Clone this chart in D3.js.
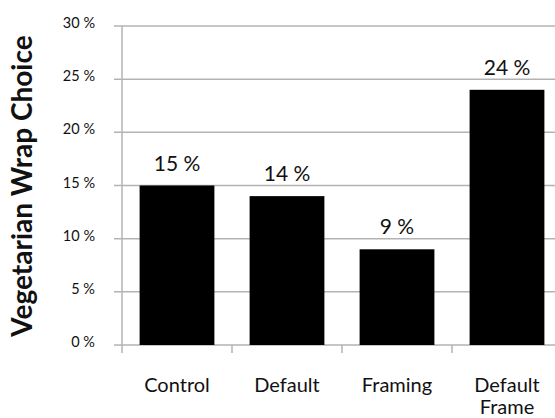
<!DOCTYPE html>
<html>
<head>
<meta charset="utf-8">
<script src="https://cdn.jsdelivr.net/npm/d3@7"></script>
<style>
  html, body { margin: 0; padding: 0; background: #fff; }
  svg { display: block; }
  text { font-family: "Lato", "DejaVu Sans", sans-serif; fill: #111; }
</style>
</head>
<body>
<svg id="chart" width="555" height="418"></svg>
<script>
// Share of diners choosing the vegetarian wrap, per condition
const categories = ["Control", "Default", "Framing", "Default\nFrame"];
const values = [15, 14, 9, 24];
const yTicks = [0, 5, 10, 15, 20, 25, 30];

const svg = d3.select("#chart");
const margin = { left: 122, top: 26, bottom: 73 };
const H = 418;

const x = d3.scaleBand()
  .domain(categories)
  .range([margin.left, margin.left + 440])
  .paddingInner(0.32)
  .paddingOuter(0.16);

const y = d3.scaleLinear()
  .domain([0, 30])
  .range([H - margin.bottom, margin.top]);

const grey = "#b3b3b3";

// horizontal gridlines with short ticks left of the axis
svg.append("g").selectAll("line")
  .data(yTicks)
  .join("line")
  .attr("x1", margin.left - 8)
  .attr("x2", 555)
  .attr("y1", d => y(d))
  .attr("y2", d => y(d))
  .attr("stroke", grey)
  .attr("stroke-width", 1.5);

// vertical axis line
svg.append("line")
  .attr("x1", margin.left).attr("x2", margin.left)
  .attr("y1", y(30)).attr("y2", y(0) + 8)
  .attr("stroke", grey).attr("stroke-width", 1.5);

// category separator ticks below the baseline
const bounds = categories.map((c, i) => margin.left + i * x.step());
svg.append("g").selectAll("line")
  .data(bounds.slice(1))
  .join("line")
  .attr("x1", d => d).attr("x2", d => d)
  .attr("y1", y(0)).attr("y2", y(0) + 8)
  .attr("stroke", grey).attr("stroke-width", 1.5);

// y tick labels
svg.append("g").selectAll("text")
  .data(yTicks)
  .join("text")
  .attr("x", 95)
  .attr("y", d => y(d) + 2)
  .attr("text-anchor", "end")
  .attr("font-size", 14.5)
  .text(d => d + " %");

// bars
svg.append("g").selectAll("rect")
  .data(values)
  .join("rect")
  .attr("x", (d, i) => x(categories[i]))
  .attr("width", x.bandwidth())
  .attr("y", d => y(d))
  .attr("height", d => y(0) - y(d))
  .attr("fill", "#000");

// value labels
svg.append("g").selectAll("text")
  .data(values)
  .join("text")
  .attr("x", (d, i) => x(categories[i]) + x.bandwidth() / 2)
  .attr("y", d => y(d) - 15)
  .attr("text-anchor", "middle")
  .attr("font-size", 21)
  .text(d => d + " %");

// category labels (may wrap to two lines)
const cat = svg.append("g").selectAll("text")
  .data(categories)
  .join("text")
  .attr("x", d => x(d) + x.bandwidth() / 2)
  .attr("y", 392)
  .attr("text-anchor", "middle")
  .attr("font-size", 20);
cat.each(function(d) {
  const t = d3.select(this);
  const cx = +t.attr("x");
  d.split("\n").forEach((line, i) => {
    t.append("tspan").attr("x", cx).attr("dy", i === 0 ? 0 : 22).text(line);
  });
});

// y axis title
svg.append("text")
  .attr("transform", `translate(32, 186) rotate(-90)`)
  .attr("text-anchor", "middle")
  .attr("font-size", 28)
  .attr("font-weight", "bold")
  .text("Vegetarian Wrap Choice");
</script>
</body>
</html>
